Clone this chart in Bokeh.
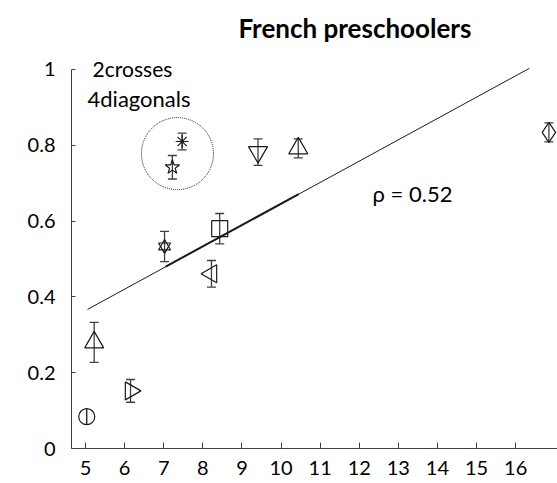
import math
from bokeh.plotting import figure
from bokeh.models import (ColumnDataSource, Whisker, TeeHead, FixedTicker, Label, Range1d)
from bokeh.embed import file_html
from bokeh.resources import INLINE

# ---- data ----
x_vals = [5.03, 5.22, 6.15, 7.02, 7.22, 7.47, 8.22, 8.43, 9.41, 10.44, 16.85]
y_vals = [0.084, 0.280, 0.152, 0.533, 0.742, 0.810, 0.461, 0.580, 0.782, 0.792, 0.834]
err_vals = [0.021, 0.053, 0.030, 0.040, 0.031, 0.022, 0.035, 0.040, 0.035, 0.025, 0.025]
marker_kinds = ["circle", "triangle", "tri_right", "hexagram", "star", "asterisk",
                "tri_left", "square", "inverted_triangle", "triangle", "diamond"]

fit_x = [5.05, 16.35]
fit_y = [0.367, 1.003]
fit2_x = [7.05, 10.45]
fit2_y = [0.480, 0.671]

x_ticks = [5, 6, 7, 8, 9, 10, 11, 12, 13, 14, 15, 16]
y_ticks = [0, 0.2, 0.4, 0.6, 0.8, 1]
y_tick_labels = ["0", "0.2", "0.4", "0.6", "0.8", "1"]

highlight_center = (7.35, 0.778)
rho_text = "ρ = 0.52"
title_text = "French preschoolers"
note_lines = ["2crosses", "4diagonals"]

# ---- styles ----
FONT = "Lato"
INK = "#1a1a1a"
AX = "#404040"
marker_size = {"circle": 16, "triangle": 19, "tri_right": 18, "tri_left": 18,
               "hexagram": 12, "star": 15, "asterisk": 13, "square": 16,
               "inverted_triangle": 19, "diamond": 20}

p = figure(width=557, height=483, output_backend="svg", toolbar_location=None,
           x_range=Range1d(4.64, 17.07), y_range=Range1d(0, 1.182),
           min_border_left=71, min_border_right=0, min_border_top=0,
           min_border_bottom=35)
p.outline_line_color = None
p.grid.visible = False
p.background_fill_color = "white"
p.border_fill_color = "white"

for ax in (p.xaxis[0], p.yaxis[0]):
    ax.axis_line_color = AX
    ax.major_tick_line_color = AX
    ax.major_tick_in = 6
    ax.major_tick_out = 0
    ax.minor_tick_line_color = None
    ax.major_label_text_font = FONT
    ax.major_label_text_font_size = "20px"
    ax.major_label_text_color = "#000000"
p.yaxis[0].major_tick_in = 4
p.yaxis[0].bounds = (0, 1)
p.xaxis.ticker = FixedTicker(ticks=x_ticks)
p.yaxis.ticker = FixedTicker(ticks=y_ticks)
p.yaxis.major_label_overrides = {t: s for t, s in zip(y_ticks, y_tick_labels)}
p.xaxis.major_label_standoff = 12
p.yaxis.major_label_standoff = 16

# regression lines
p.line(fit_x, fit_y, line_color=INK, line_width=1)
p.line(fit2_x, fit2_y, line_color=INK, line_width=2)

# dotted highlight circle
p.scatter([highlight_center[0]], [highlight_center[1]], marker="circle", size=72,
          fill_color=None, line_color=INK, line_dash="1 1", line_width=1)

# error bars
upper = [y + e for y, e in zip(y_vals, err_vals)]
lower = [y - e for y, e in zip(y_vals, err_vals)]
idx_capped = [i for i, m in enumerate(marker_kinds) if m != "circle"]
idx_plain = [i for i, m in enumerate(marker_kinds) if m == "circle"]
src_cap = ColumnDataSource(dict(x=[x_vals[i] for i in idx_capped],
                                upper=[upper[i] for i in idx_capped],
                                lower=[lower[i] for i in idx_capped]))
src_plain = ColumnDataSource(dict(x=[x_vals[i] for i in idx_plain],
                                  upper=[upper[i] for i in idx_plain],
                                  lower=[lower[i] for i in idx_plain]))
p.add_layout(Whisker(source=src_cap, base="x", upper="upper", lower="lower",
                     line_color=AX, line_width=1.3,
                     upper_head=TeeHead(size=9, line_color=AX, line_width=1.3),
                     lower_head=TeeHead(size=9, line_color=AX, line_width=1.3)))
p.add_layout(Whisker(source=src_plain, base="x", upper="upper", lower="lower",
                     line_color=INK, line_width=1.3, upper_head=None, lower_head=None))

# markers
for i, kind in enumerate(marker_kinds):
    xs, ys = [x_vals[i]], [y_vals[i]]
    kw = dict(fill_color=None, line_color=INK, line_width=1.2, size=marker_size[kind])
    if kind == "tri_right":
        p.scatter(xs, ys, marker="triangle", angle=-math.pi / 2, **kw)
    elif kind == "tri_left":
        p.scatter(xs, ys, marker="triangle", angle=math.pi / 2, **kw)
    elif kind == "hexagram":
        p.scatter(xs, ys, marker="triangle", **kw)
        p.scatter(xs, ys, marker="inverted_triangle", **kw)
    else:
        p.scatter(xs, ys, marker=kind, **kw)

# texts
p.add_layout(Label(x=12.34, y=0.672, text=rho_text, text_font=FONT,
                   text_font_size="22px", text_color="#000000",
                   text_baseline="middle", text_align="left"))
p.add_layout(Label(x=5.18, y=1.003, text=note_lines[0], text_font=FONT,
                   text_font_size="21px", text_color="#000000",
                   text_baseline="middle", text_align="left"))
p.add_layout(Label(x=5.05, y=0.924, text=note_lines[1], text_font=FONT,
                   text_font_size="22px", text_color="#000000",
                   text_baseline="middle", text_align="left"))
p.add_layout(Label(x=8.91, y=1.11, text=title_text, text_font=FONT,
                   text_font_size="26px", text_font_style="bold",
                   text_color="#000000", text_baseline="alphabetic",
                   text_align="left"))

open("out.html", "w").write(file_html(p, INLINE))
